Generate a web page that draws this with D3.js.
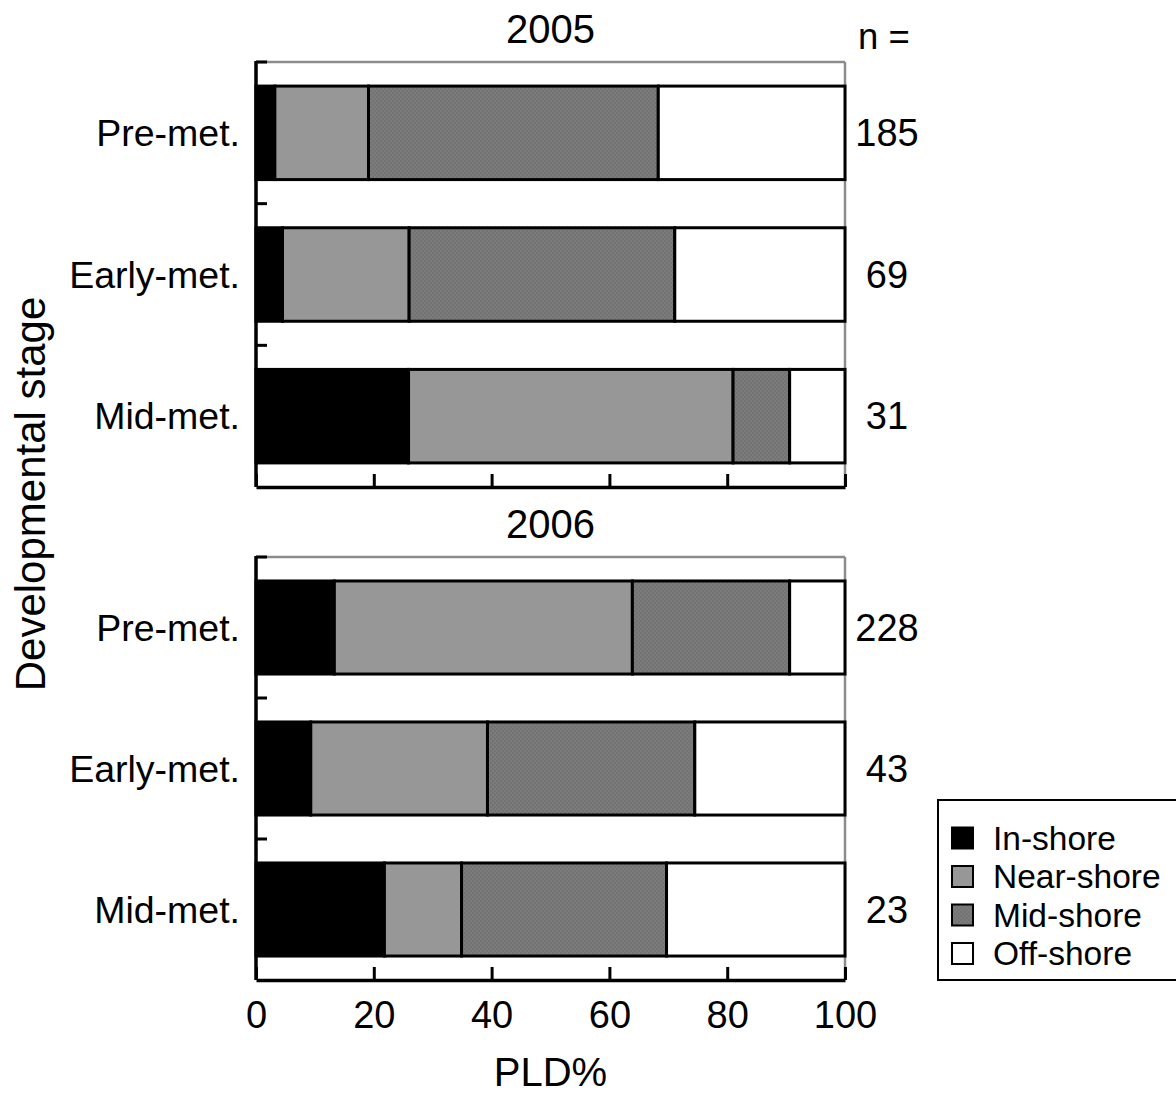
<!DOCTYPE html>
<html>
<head>
<meta charset="utf-8">
<script src="https://cdn.jsdelivr.net/npm/d3@7"></script>
<style>
  body { margin: 0; background: #fff; }
  text { font-family: "Liberation Sans", Arial, sans-serif; fill: #000; }
</style>
</head>
<body>
<svg id="chart" width="1176" height="1097"></svg>
<script>
// data (percent of PLD per zone)
var stages = ["Pre-met.", "Early-met.", "Mid-met."];
var zones = ["In-shore", "Near-shore", "Mid-shore", "Off-shore"];
var years = ["2005", "2006"];
var inShore2005   = [3.2, 4.5, 25.9];
var nearShore2005 = [15.9, 21.5, 55.1];
var midShore2005  = [49.2, 45.1, 9.6];
var offShore2005  = [31.7, 28.9, 9.4];
var inShore2006   = [13.3, 9.3, 21.8];
var nearShore2006 = [50.6, 30.0, 13.1];
var midShore2006  = [26.7, 35.2, 34.8];
var offShore2006  = [9.4, 25.5, 30.3];
var n2005 = [185, 69, 31];
var n2006 = [228, 43, 23];
var xTicks = [0, 20, 40, 60, 80, 100];

var svg = d3.select("#chart");

// pattern for mid-shore (fine checker)
var defs = svg.append("defs");
var pat = defs.append("pattern")
    .attr("id", "midPat")
    .attr("width", 4).attr("height", 4)
    .attr("patternUnits", "userSpaceOnUse");
pat.append("rect").attr("width", 4).attr("height", 4).attr("fill", "#7c7c7c");
pat.append("rect").attr("width", 2).attr("height", 2).attr("fill", "#737373");
pat.append("rect").attr("x", 2).attr("y", 2).attr("width", 2).attr("height", 2).attr("fill", "#737373");

var fills = ["#000000", "#979797", "url(#midPat)", "#ffffff"];

function buildRows(ins, near, mid, off, ns) {
    return stages.map(function(s, i) {
        return { stage: s, n: ns[i], vals: [ins[i], near[i], mid[i], off[i]] };
    });
}

var panels = [
    { year: years[0], top: 62, bottom: 487, rows: buildRows(inShore2005, nearShore2005, midShore2005, offShore2005, n2005), labels: false },
    { year: years[1], top: 557, bottom: 980, rows: buildRows(inShore2006, nearShore2006, midShore2006, offShore2006, n2006), labels: true }
];

var x = d3.scaleLinear().domain([0, 100]).range([256, 845]);

panels.forEach(function(p) {
    var y = d3.scaleBand()
        .domain(stages)
        .range([p.top, p.bottom])
        .paddingInner(0.34)
        .paddingOuter(0.17);
    var g = svg.append("g");

    // gray top and right frame
    g.append("line").attr("x1", x(0)).attr("x2", x(100)).attr("y1", p.top).attr("y2", p.top)
        .attr("stroke", "#8c8c8c").attr("stroke-width", 2.5);
    g.append("line").attr("x1", x(100)).attr("x2", x(100)).attr("y1", p.top).attr("y2", p.bottom)
        .attr("stroke", "#8c8c8c").attr("stroke-width", 2.5);

    // stacked bars
    p.rows.forEach(function(r) {
        var start = 0;
        var segs = r.vals.map(function(v, k) {
            var s = { x0: start, x1: start + v, k: k };
            start += v;
            return s;
        });
        g.selectAll(null)
            .data(segs)
            .enter()
            .append("rect")
            .attr("x", function(d){ return x(d.x0); })
            .attr("width", function(d){ return x(d.x1) - x(d.x0); })
            .attr("y", y(r.stage))
            .attr("height", y.bandwidth())
            .attr("fill", function(d){ return fills[d.k]; })
            .attr("stroke", "#000")
            .attr("stroke-width", 3);

        g.append("text")
            .attr("x", x(0) - 16)
            .attr("y", y(r.stage) + y.bandwidth() / 2)
            .attr("dy", "0.35em")
            .attr("text-anchor", "end")
            .style("font-size", "37.5px")
            .text(r.stage);

        g.append("text")
            .attr("x", 887)
            .attr("y", y(r.stage) + y.bandwidth() / 2)
            .attr("dy", "0.35em")
            .attr("text-anchor", "middle")
            .style("font-size", "38px")
            .text(r.n);
    });

    // y axis: ticks between bands, pointing in
    var yTickPos = [p.top].concat(stages.slice(1).map(function(s){ return y(s) - y.step() * y.paddingInner() / 2; }));
    g.append("line").attr("x1", x(0)).attr("x2", x(0)).attr("y1", p.top - 1).attr("y2", p.bottom)
        .attr("stroke", "#000").attr("stroke-width", 3.5);
    g.selectAll(null).data(yTickPos).enter().append("line")
        .attr("x1", x(0)).attr("x2", x(0) + 11)
        .attr("y1", function(d){ return d; }).attr("y2", function(d){ return d; })
        .attr("stroke", "#000").attr("stroke-width", 3);

    // x axis
    var xAxis = d3.axisBottom(x).tickValues(xTicks).tickSizeInner(-13).tickSizeOuter(0)
        .tickFormat(p.labels ? d3.format("d") : "");
    var ax = g.append("g").attr("transform", "translate(0," + p.bottom + ")").call(xAxis);
    ax.select(".domain").attr("stroke-width", 3.5);
    ax.selectAll(".tick line").attr("stroke-width", 3);
    ax.selectAll(".tick text")
        .attr("y", 21)
        .attr("dy", "0.71em")
        .style("font-family", "'Liberation Sans', Arial, sans-serif")
        .style("font-size", "38px")
        .attr("fill", "#000");

    // year title
    svg.append("text")
        .attr("x", (x(0) + x(100)) / 2)
        .attr("y", p.top - 19)
        .attr("text-anchor", "middle")
        .style("font-size", "40px")
        .text(p.year);
});

svg.append("text")
    .attr("x", 884).attr("y", 49)
    .attr("text-anchor", "middle")
    .style("font-size", "36.5px")
    .text("n =");

// axis titles
svg.append("text")
    .attr("x", (x(0) + x(100)) / 2).attr("y", 1086)
    .attr("text-anchor", "middle")
    .style("font-size", "40px")
    .text("PLD%");

svg.append("text")
    .attr("transform", "translate(45,494) rotate(-90)")
    .attr("text-anchor", "middle")
    .style("font-size", "42px")
    .text("Developmental stage");

// legend
var leg = svg.append("g").attr("transform", "translate(938,800)");
leg.append("rect").attr("width", 245).attr("height", 180)
    .attr("fill", "#fff").attr("stroke", "#000").attr("stroke-width", 2);
var items = leg.selectAll(".item").data(zones).enter().append("g")
    .attr("class", "item")
    .attr("transform", function(d, i){ return "translate(14," + (38 + i * 38.5) + ")"; });
items.append("rect")
    .attr("y", -10.5).attr("width", 21).attr("height", 21)
    .attr("fill", function(d, i){ return fills[i]; })
    .attr("stroke", "#000").attr("stroke-width", 2);
items.append("text")
    .attr("x", 41).attr("dy", "0.35em")
    .style("font-size", "33.5px")
    .text(function(d){ return d; });
</script>
</body>
</html>
